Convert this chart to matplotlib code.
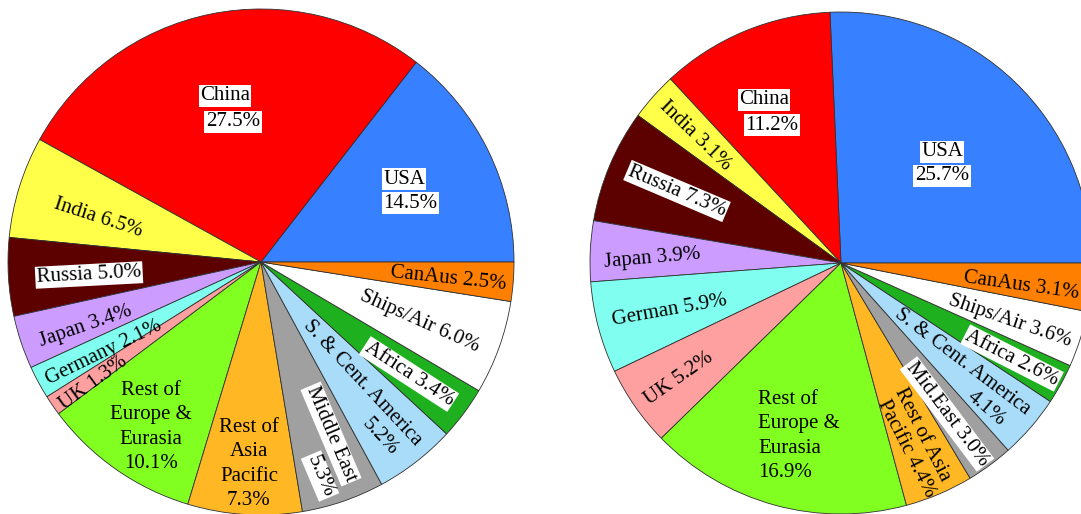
import matplotlib.pyplot as plt

plt.rcParams['font.family'] = ['Liberation Serif', 'DejaVu Serif']

# slices in counter-clockwise order, starting at 3 o'clock
regions = ["USA", "China", "India", "Russia", "Japan", "Germany", "UK",
           "Rest of Europe & Eurasia", "Rest of Asia Pacific", "Middle East",
           "S. & Cent. America", "Africa", "Ships/Air", "CanAus"]
share_left = [14.5, 27.5, 6.5, 5.0, 3.4, 2.1, 1.3, 10.1, 7.3, 5.3, 5.2, 3.4, 6.0, 2.5]
share_right = [25.7, 11.2, 3.1, 7.3, 3.9, 5.9, 5.2, 16.9, 4.4, 3.0, 4.1, 2.6, 3.6, 3.1]

colors = ["#3780ff", "#ff0000", "#ffff4a", "#5c0000", "#cc9cff", "#80fff0",
          "#ffa0a0", "#80ff20", "#ffb824", "#a0a0a0", "#a8dcf8", "#1fb01f",
          "#ffffff", "#ff8000"]

W, H = 1081, 514

def py(y):
    # picture rows -> data y
    return H - y

# label layout: text, x, y (pixels from top-left), rotation, white box, alignment
labels_left = [
    ("China", 225, 96, 0, True, "center"),
    ("27.5%", 233, 122, 0, True, "center"),
    ("USA", 383, 179, 0, True, "left"),
    ("14.5%", 383, 203, 0, True, "left"),
    ("India 6.5%", 98, 218, -18, False, "center"),
    ("Russia 5.0%", 89, 275, 3, True, "center"),
    ("Japan 3.4%", 86, 326, 19, False, "center"),
    ("Germany 2.1%", 104, 353, 26, False, "center"),
    ("UK 1.3%", 93, 383, 36, False, "center"),
    ("Rest of\nEurope &\nEurasia\n10.1%", 151, 427, 0, False, "center"),
    ("Rest of\nAsia\nPacific\n7.3%", 249, 464, 0, False, "center"),
    ("Middle East", 331, 434, -67, True, "center"),
    ("5.3%", 320, 476, -67, True, "center"),
    ("S. & Cent. America", 362, 383, -47, False, "center"),
    ("5.2%", 380, 437, -47, False, "center"),
    ("Africa 3.4%", 409, 374, -33, True, "center"),
    ("Ships/Air 6.0%", 420, 321, -24, False, "center"),
    ("CanAus 2.5%", 448, 279, -6, False, "center"),
]

labels_right = [
    ("China", 764, 100, 0, True, "center"),
    ("11.2%", 772, 125, 0, True, "center"),
    ("USA", 942, 152, 0, True, "center"),
    ("25.7%", 942, 176, 0, True, "center"),
    ("India 3.1%", 695, 136, -44, False, "center"),
    ("Russia 7.3%", 677, 191, -23, True, "center"),
    ("Japan 3.9%", 652, 258, 5, False, "center"),
    ("German 5.9%", 670, 310, 10, False, "center"),
    ("UK 5.2%", 679, 379, 35, False, "center"),
    ("Rest of\nEurope &\nEurasia\n16.9%", 758, 436, 0, False, "left"),
    ("Rest of Asia", 922, 435, -63, False, "center"),
    ("Pacific 4.4%", 906, 449, -63, False, "center"),
    ("Mid.East 3.0%", 947, 414, -53, True, "center"),
    ("S. & Cent. America", 962, 362, -37, False, "center"),
    ("4.1%", 986, 409, -40, False, "center"),
    ("Africa 2.6%", 1012, 358, -27, True, "center"),
    ("Ships/Air 3.6%", 1010, 321, -19, False, "center"),
    ("CanAus 3.1%", 1021, 286, -8, False, "center"),
]

fig = plt.figure(figsize=(W / 100, H / 100), dpi=100)
ax = fig.add_axes([0, 0, 1, 1])

wp = dict(edgecolor="#303030", linewidth=0.6)
ax.pie(share_left, colors=colors, startangle=0, counterclock=True,
       center=(261, py(262)), radius=253, wedgeprops=wp)
ax.pie(share_right, colors=colors, startangle=0, counterclock=True,
       center=(841, py(263)), radius=251, wedgeprops=wp)

for txt, x, y, rot, boxed, ha in labels_left + labels_right:
    kw = {}
    if boxed:
        kw["bbox"] = dict(facecolor="white", edgecolor="none", pad=1.0)
    ax.text(x, py(y), txt, rotation=rot, ha=ha, va="center",
            multialignment=ha, fontsize=15, linespacing=1.36,
            rotation_mode="anchor", **kw)

ax.set_xlim(0, W)
ax.set_ylim(0, H)
ax.set_aspect("equal")
ax.axis("off")

fig.savefig("out.png", dpi=100)
